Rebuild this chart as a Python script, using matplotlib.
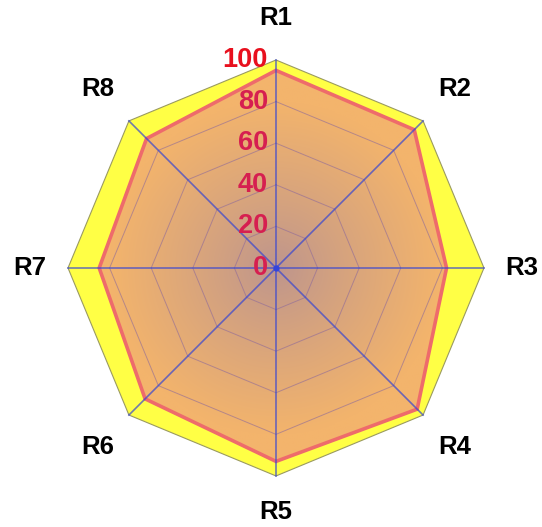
import numpy as np
import matplotlib
matplotlib.use('Agg')
import matplotlib.pyplot as plt
from matplotlib.patches import Polygon

plt.rcParams['font.family'] = ['Liberation Sans', 'DejaVu Sans']

# radar data
labels = ['R1', 'R2', 'R3', 'R4', 'R5', 'R6', 'R7', 'R8']
values = [95, 94, 82, 96, 93, 89, 85, 88]
rings = [0, 20, 40, 60, 80, 100]
rmax = 100

n = len(labels)
ang = np.radians(90 - 360.0 / n * np.arange(n))
cs, sn = np.cos(ang), np.sin(ang)

def pts(r):
    r = np.broadcast_to(np.asarray(r, float), (n,))
    return np.column_stack([r * cs, r * sn])

fig = plt.figure(figsize=(5.42, 5.27), dpi=100, facecolor='white')
ax = fig.add_axes([0, 0, 1, 1])
ax.set_xlim(-132.7, 127.9)
ax.set_ylim(-124.5, 128.8)
ax.set_aspect('equal')
ax.axis('off')

# outer area (max value)
ax.add_patch(Polygon(pts(rmax), closed=True, facecolor='#FFFF45',
                     edgecolor='#9A9A60', lw=0.8, zorder=1))

# data area: radial gradient clipped to polygon
g = np.linspace(-rmax, rmax, 400)
xx, yy = np.meshgrid(g, g)
rr = np.hypot(xx, yy) / rmax
c0 = np.array([188, 148, 142]) / 255.0
c1 = np.array([243, 180, 108]) / 255.0
f = np.clip(rr / 0.8, 0, 1) ** 0.85
img = c0 + (c1 - c0) * f[..., None]
data_poly = Polygon(pts(values), closed=True, facecolor='none',
                    edgecolor='#EE6B6B', lw=2.6, zorder=5)
ax.add_patch(data_poly)
im = ax.imshow(img, extent=[-rmax, rmax, -rmax, rmax], origin='lower',
               zorder=2, interpolation='bilinear')
im.set_clip_path(data_poly)

# polygon grid rings
for r in rings[1:-1]:
    p = np.vstack([pts(r), pts(r)[:1]])
    ax.plot(p[:, 0], p[:, 1], color='#8E6A9A', lw=0.7, alpha=0.6, zorder=3)

# spokes
for c, s in zip(cs, sn):
    ax.plot([0, rmax * c], [0, rmax * s], color='#3444D4', lw=1.2,
            alpha=0.7, zorder=6)
ax.plot([0], [0], 'o', color='#3344DD', ms=3.5, zorder=7)

# ring value labels along first spoke
for r in rings:
    col = '#E8101E' if r == rmax else '#D61F50'
    ax.text(-3.8, r, str(r), ha='right', va='center', fontsize=19.5,
            fontweight='bold', color=col, zorder=8)

# category labels, a bit further out on the diagonals
lab_r = [120, 121.5, 118.3, 121.5, 117.5, 121.5, 118.3, 121.5]
for lab, c, s, lr in zip(labels, cs, sn, lab_r):
    ax.text(lr * c, lr * s, lab, ha='center', va='center',
            fontsize=18.5, fontweight='bold', color='black', zorder=8)

fig.savefig('out.png', dpi=100, facecolor='white')
